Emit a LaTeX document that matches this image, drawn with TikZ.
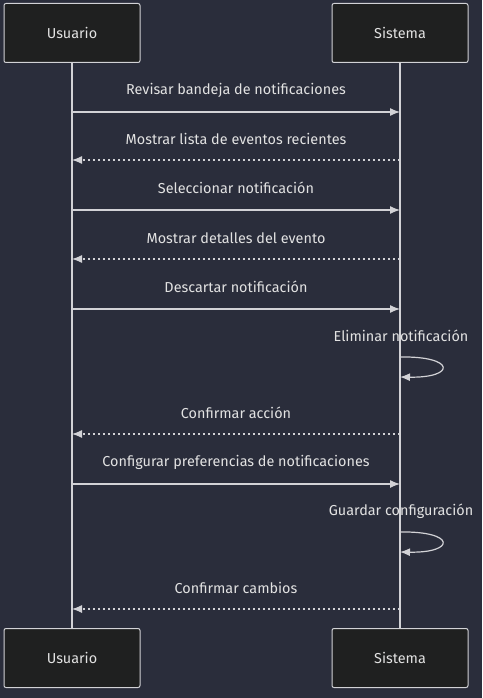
\documentclass[tikz,border=0pt]{standalone}
\usepackage{fontspec}
\setmainfont{Fira Sans}
\usetikzlibrary{arrows.meta}

\definecolor{bgcol}{HTML}{2A2D3B}
\definecolor{boxcol}{HTML}{1F2020}
\definecolor{linecol}{HTML}{D2D2D6}
\definecolor{txtcol}{HTML}{E2E2E2}

\tikzset{
  actor/.style={draw=linecol,fill=boxcol,rounded corners=2pt,line width=1pt,
    minimum width=136pt,minimum height=59pt,text=txtcol},
  msg/.style={text=txtcol,inner sep=0pt},
  call/.style={draw=linecol,line width=1.2pt,-{Latex[length=10pt,width=8pt]}},
  reply/.style={call,dash pattern=on 2.5pt off 2.5pt}
}

\begin{document}
\begin{tikzpicture}[x=1pt,y=-1pt,font=\fontsize{14.4}{17}\selectfont]
  \fill[bgcol] (0,0) rectangle (482,698);
  \useasboundingbox (0,0) rectangle (482,698);

  \node[actor] (U1) at (72,33) {Usuario};
  \node[actor] (S1) at (400,33) {Sistema};
  \node[actor] (U2) at (72,658) {Usuario};
  \node[actor] (S2) at (400,658) {Sistema};

  \draw[linecol,line width=1.2pt] (U1.south) -- (U2.north);
  \draw[linecol,line width=1.2pt] (S1.south) -- (S2.north);

  % message ends on the lifelines
  \coordinate (u1) at (72,112);  \coordinate (s1) at (400,112);
  \coordinate (u2) at (72,160);  \coordinate (s2) at (400,160);
  \coordinate (u3) at (72,210);  \coordinate (s3) at (400,210);
  \coordinate (u4) at (72,259);  \coordinate (s4) at (400,259);
  \coordinate (u5) at (72,309);  \coordinate (s5) at (400,309);
  \coordinate (a6) at (400,357); \coordinate (b6) at (400,377);
  \coordinate (u7) at (72,434);  \coordinate (s7) at (400,434);
  \coordinate (u8) at (72,484);  \coordinate (s8) at (400,484);
  \coordinate (a9) at (400,532); \coordinate (b9) at (400,552);
  \coordinate (u10) at (72,609); \coordinate (s10) at (400,609);

  \node[msg] (m1) at (236,90) {Revisar bandeja de notificaciones};
  \node[msg] (m2) at (236,139) {Mostrar lista de eventos recientes};
  \node[msg] (m3) at (236,188) {Seleccionar notificación};
  \node[msg] (m4) at (236,238) {Mostrar detalles del evento};
  \node[msg] (m5) at (236,287) {Descartar notificación};
  \node[msg] (m6) at (401,336) {Eliminar notificación};
  \node[msg] (m7) at (236,413) {Confirmar acción};
  \node[msg] (m8) at (236,462) {Configurar preferencias de notificaciones};
  \node[msg] (m9) at (401,511) {Guardar configuración};
  \node[msg] (m10) at (236,588) {Confirmar cambios};

  \draw[call] (u1) -- (s1);
  \draw[reply] (s2) -- (u2);
  \draw[call] (u3) -- (s3);
  \draw[reply] (s4) -- (u4);
  \draw[call] (u5) -- (s5);
  \draw[call] (a6) .. controls (456,356) and (456,378) .. (b6);
  \draw[reply] (s7) -- (u7);
  \draw[call] (u8) -- (s8);
  \draw[call] (a9) .. controls (456,531) and (456,553) .. (b9);
  \draw[reply] (s10) -- (u10);

\end{tikzpicture}
\end{document}
